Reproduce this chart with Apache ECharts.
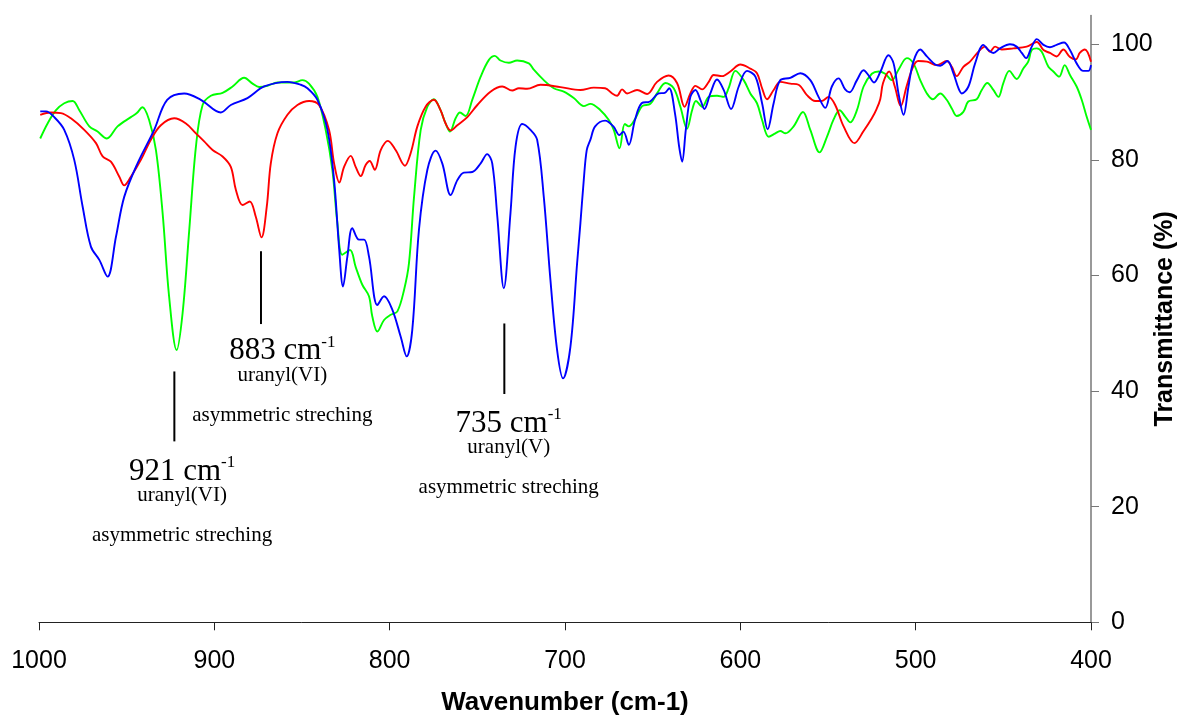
<!DOCTYPE html>
<html>
<head>
<meta charset="utf-8">
<title>FTIR transmittance</title>
<script src="https://cdn.jsdelivr.net/npm/echarts@6/dist/echarts.min.js"></script>
<style>
  html, body { margin: 0; padding: 0; background: #fff; }
  #chart { width: 1185px; height: 716px; }
</style>
</head>
<body>
<div id="chart"></div>
<script>
// wavenumber (cm-1) / transmittance (%)
const blueWn = [999.3, 996, 991.3, 985.6, 979.9, 975.1, 970.4, 965.6, 960.9, 956.1, 951.4, 943.8, 934.3, 926.9, 917.2, 907.7, 896.3, 890.6, 881.1, 871.6, 858.3, 850.7, 846.9, 841.2, 835.5, 831.7, 828.9, 826.6, 824.1, 821.3, 817.5, 814.6, 811.8, 807.0, 803.2, 798.5, 793.7, 790.3, 787.1, 783.3, 778.5, 773.8, 770.0, 765.2, 761.4, 757.7, 752.9, 748.1, 744.4, 741.5, 738.6, 734.9, 731.1, 728.2, 724.4, 719.7, 715.9, 712.1, 708.3, 704.5, 701.1, 696.9, 693.1, 691.2, 689.3, 687.6, 685.5, 682.8, 677.1, 672.4, 669.0, 666.7, 663.6, 660.1, 656.3, 651.5, 646.6, 643.1, 640.6, 637.3, 634.9, 633.2, 631.1, 628.5, 625.6, 622.8, 620.5, 617.1, 613.3, 609.5, 605.3, 600.9, 596.2, 591.4, 587.6, 584.4, 581.0, 577.2, 571.5, 565.8, 560.1, 555.4, 551.6, 547.8, 544.0, 540.2, 537.7, 533.5, 529.7, 526.8, 523.8, 520.2, 515.5, 512.6, 509.8, 506.9, 504.1, 501.3, 497.4, 493.6, 488.9, 486.0, 481.9, 478.5, 475.6, 473.7, 469.9, 466.1, 461.4, 458.5, 455.7, 451.9, 446.2, 442.4, 439.5, 437.0, 433.8, 430.9, 427.1, 423.4, 419.6, 415.4, 412.0, 408.2, 404.4, 401.5, 400];
const blueT = [88.4, 88.4, 87.4, 85.2, 80.0, 71.9, 65.0, 62.7, 59.8, 66.7, 73.6, 79.4, 85.2, 90.4, 91.5, 90.4, 88.2, 89.5, 90.7, 92.7, 93.5, 93.0, 92.4, 90.4, 85.2, 76.5, 65.0, 58.1, 63.3, 68.2, 66.2, 66.2, 63.3, 54.9, 56.4, 54.1, 49.4, 46.0, 50.6, 67.9, 78.3, 81.6, 79.4, 73.9, 76.5, 77.8, 77.9, 79.4, 81.0, 79.4, 70.2, 57.8, 70.8, 82.3, 86.2, 85.2, 83.5, 73.6, 59.2, 47.1, 42.2, 47.7, 62.1, 69.1, 76.5, 81.7, 83.5, 85.8, 86.8, 85.8, 84.3, 84.9, 82.6, 86.9, 89.8, 90.1, 91.5, 91.6, 92.4, 88.1, 82.3, 79.7, 85.2, 90.9, 92.1, 90.4, 88.8, 91.5, 93.9, 92.1, 88.8, 92.7, 95.4, 94.4, 89.8, 85.3, 89.8, 93.8, 94.2, 95.0, 93.8, 90.9, 89.0, 92.7, 94.1, 92.2, 91.7, 93.8, 95.5, 94.6, 93.4, 95.2, 98.1, 96.7, 91.5, 87.8, 92.7, 97.0, 99.1, 97.9, 96.5, 96.3, 97.1, 95.0, 92.4, 91.5, 92.7, 96.7, 99.9, 99.0, 98.5, 99.3, 100.0, 99.6, 98.5, 97.6, 99.6, 100.9, 99.9, 99.5, 99.9, 100.3, 99.0, 96.7, 95.4, 95.4, 96.4];

const redWn = [999.3, 993.2, 987.5, 981.8, 974.2, 967.5, 963.7, 959.0, 954.2, 951.4, 947.6, 941.9, 936.2, 930.5, 922.9, 916.2, 910.5, 905.8, 901.0, 895.3, 890.6, 887.7, 883.9, 879.8, 876.4, 873.1, 870.1, 867.8, 864.0, 858.3, 852.6, 846.0, 840.3, 834.6, 831.7, 828.7, 826.0, 822.2, 819.4, 816.5, 813.7, 811.4, 808.5, 805.1, 801.0, 796.6, 791.3, 788.0, 784.2, 779.5, 774.8, 771.0, 768.1, 765.2, 761.4, 755.7, 750.0, 742.5, 735.8, 730.1, 726.3, 721.6, 714.0, 702.6, 691.2, 683.6, 677.1, 673.1, 670.3, 667.5, 664.6, 658.9, 653.2, 647.5, 640.9, 636.1, 631.8, 628.5, 625.6, 621.8, 618.0, 615.2, 610.4, 605.7, 600.0, 594.3, 590.5, 587.6, 584.8, 581.0, 577.2, 571.5, 566.8, 562.0, 557.3, 553.5, 549.7, 545.9, 541.1, 534.9, 529.7, 525.0, 522.3, 520.2, 518.6, 515.1, 511.9, 508.5, 505.2, 501.5, 498.6, 493.6, 488.0, 482.3, 479.4, 476.6, 472.8, 469.0, 464.3, 460.4, 457.6, 454.7, 450.9, 444.3, 436.7, 430.9, 427.1, 423.4, 419.6, 415.8, 412.0, 408.6, 406.4, 403.5, 400];
const redT = [87.8, 88.2, 88.1, 87.2, 85.2, 82.9, 80.6, 79.7, 77.1, 75.6, 77.1, 80.0, 83.5, 86.0, 87.2, 86.3, 84.6, 83.2, 81.7, 80.6, 78.8, 74.8, 72.2, 72.8, 70.2, 66.6, 71.9, 79.4, 84.6, 87.8, 89.5, 90.2, 89.5, 85.2, 79.4, 76.1, 78.8, 80.7, 78.8, 77.2, 79.1, 79.8, 78.3, 81.7, 83.3, 81.7, 79.0, 81.2, 85.8, 89.2, 90.4, 88.6, 86.3, 85.1, 86.0, 87.4, 89.5, 91.8, 92.7, 92.0, 92.4, 92.3, 93.0, 92.6, 92.1, 92.5, 92.4, 91.5, 91.1, 92.2, 91.5, 92.1, 91.4, 93.5, 94.6, 93.3, 89.2, 91.5, 92.8, 92.2, 93.5, 94.7, 94.5, 95.3, 96.5, 95.8, 95.0, 92.4, 90.5, 92.1, 93.5, 93.2, 93.0, 91.2, 90.2, 90.2, 90.9, 89.5, 85.8, 82.9, 85.0, 87.2, 88.8, 90.5, 93.3, 95.3, 92.7, 89.3, 92.7, 96.1, 97.1, 97.0, 96.4, 97.1, 96.1, 94.5, 96.1, 97.0, 98.7, 99.6, 98.7, 99.6, 99.1, 99.3, 99.6, 100.4, 99.0, 98.5, 97.9, 99.1, 97.8, 97.4, 98.5, 99.1, 97.0];

const greenWn = [999.3, 995.1, 990.3, 985.6, 980.8, 977.0, 971.3, 966.6, 961.3, 955.2, 947.6, 944.2, 941.0, 937.2, 933.3, 929.5, 925.8, 921.5, 918.1, 914.3, 910.5, 906.7, 902.0, 895.3, 889.6, 883.0, 878.2, 874.5, 869.7, 864.0, 854.5, 849.8, 846.0, 841.2, 836.5, 832.7, 829.8, 827.0, 822.6, 819.4, 815.6, 811.8, 809.9, 807.0, 803.2, 799.4, 795.6, 791.8, 789.0, 786.1, 782.3, 778.5, 774.8, 771.0, 768.1, 765.6, 762.4, 759.9, 756.7, 752.9, 748.1, 743.4, 740.0, 736.8, 732.0, 727.3, 720.6, 717.8, 712.1, 706.4, 700.7, 695.0, 689.3, 685.5, 679.8, 675.0, 672.2, 668.9, 665.9, 663.6, 659.8, 656.0, 651.3, 647.5, 642.7, 638.0, 634.2, 630.4, 627.5, 625.3, 621.8, 618.0, 613.3, 609.5, 606.7, 602.8, 598.1, 594.3, 590.5, 587.6, 583.8, 580.0, 577.2, 574.3, 569.6, 564.3, 560.1, 554.8, 550.6, 546.8, 543.4, 540.2, 537.3, 533.5, 529.7, 525.0, 521.2, 517.4, 513.6, 509.8, 505.0, 501.3, 497.4, 493.6, 490.2, 486.0, 482.3, 479.4, 476.6, 472.8, 470.0, 465.2, 462.3, 459.1, 455.7, 452.8, 450.0, 446.6, 442.4, 438.6, 435.8, 433.8, 430.9, 428.1, 424.3, 421.5, 418.2, 415.0, 412.0, 408.2, 405.3, 402.5, 400];
const greenT = [83.7, 86.3, 88.6, 89.8, 90.2, 88.6, 85.8, 84.9, 83.7, 85.8, 87.4, 88.1, 89.1, 86.9, 81.7, 70.8, 56.4, 47.1, 53.5, 67.9, 82.3, 89.5, 91.1, 91.6, 92.7, 94.2, 93.2, 92.6, 92.8, 93.4, 93.4, 93.8, 93.2, 90.9, 85.2, 78.3, 69.0, 63.6, 64.4, 61.5, 58.4, 56.4, 52.9, 50.3, 52.3, 53.2, 53.8, 57.5, 62.1, 73.6, 85.2, 89.2, 90.5, 88.6, 86.3, 84.9, 87.2, 88.2, 87.6, 90.4, 94.4, 97.3, 98.0, 97.2, 96.8, 97.2, 96.7, 95.6, 93.8, 92.4, 91.8, 90.7, 89.3, 89.7, 88.6, 86.9, 85.2, 82.0, 86.2, 85.8, 87.2, 89.3, 89.7, 91.5, 93.3, 92.4, 89.2, 85.4, 88.6, 90.2, 89.2, 90.9, 91.1, 90.9, 92.4, 95.4, 93.8, 91.5, 89.8, 86.9, 84.0, 84.6, 85.0, 84.6, 85.8, 88.3, 85.2, 81.3, 84.0, 87.0, 88.6, 87.5, 86.5, 88.6, 92.7, 94.9, 95.3, 94.9, 93.8, 95.6, 97.6, 96.7, 93.8, 91.5, 90.5, 91.5, 90.4, 88.9, 87.6, 88.3, 90.1, 90.5, 92.1, 93.3, 92.1, 90.9, 93.3, 95.4, 94.0, 95.8, 97.0, 99.0, 99.3, 98.7, 96.1, 95.3, 94.4, 96.4, 94.7, 92.7, 90.4, 87.5, 85.2];

// axis ticks
const xTicks = [400, 500, 600, 700, 800, 900, 1000];
const yTicks = [0, 20, 40, 60, 80, 100];

// peak annotations
const peakLabels = ['921', '883', '735'];
const peakSpecies = ['uranyl(VI)', 'uranyl(VI)', 'uranyl(V)'];
const peakMode = 'asymmetric streching';

// where the annotations sit (data units)
const markWn = [922.8, 873.4, 734.6];
const markTop = [43.4, 64.2, 51.7];
const markBottom = [31.3, 51.6, 39.5];
const textWn = [918.4, 861.2, 732.1];
const textT = [26.1, 46.9, 34.4];

const sans = '"Liberation Sans", Arial, sans-serif';
const serif = '"Liberation Serif", "Times New Roman", serif';

function pairs(xs, ys) {
  return xs.map(function (x, i) { return [x, ys[i]]; });
}

function trace(name, color, xs, ys) {
  return {
    name: name,
    type: 'line',
    data: pairs(xs, ys),
    symbol: 'none',
    smooth: 0.35,
    silent: true,
    lineStyle: { color: color, width: 1.9 },
    itemStyle: { color: color }
  };
}

let chart = echarts.init(document.getElementById('chart'));

const option = {
  animation: false,
  grid: { left: 39, right: 94, top: 15.4, bottom: 93.7, containLabel: false, outerBoundsMode: 'none' },
  xAxis: {
    type: 'value',
    inverse: true,
    min: 400,
    max: 1000,
    interval: 100,
    name: 'Wavenumber (cm-1)',
    nameLocation: 'middle',
    nameGap: 68,
    nameTextStyle: { fontFamily: sans, fontSize: 26, fontWeight: 'bold', color: '#000' },
    axisLine: { lineStyle: { color: '#222', width: 1 } },
    axisTick: { length: 8, lineStyle: { color: '#222' }, customValues: xTicks },
    axisLabel: {
      fontFamily: sans, fontSize: 25, color: '#000', margin: 26, customValues: xTicks,
      formatter: function (v) { return String(v); }
    },
    splitLine: { show: false }
  },
  yAxis: {
    type: 'value',
    position: 'right',
    min: 0,
    max: 105,
    interval: 20,
    name: 'Transmittance (%)',
    nameLocation: 'middle',
    nameRotate: 90,
    nameGap: 62,
    nameMoveOverlap: false,
    nameTextStyle: { fontFamily: sans, fontSize: 25, fontWeight: 'bold', color: '#000' },
    axisLine: { show: true, lineStyle: { color: '#777', width: 1.5 } },
    axisTick: { show: true, length: 8, lineStyle: { color: '#777' }, customValues: yTicks },
    axisLabel: {
      fontFamily: sans, fontSize: 25, color: '#000', margin: 20, customValues: yTicks,
      formatter: function (v) { return String(v); }
    },
    splitLine: { show: false }
  },
  series: [
    trace('green', '#00ff00', greenWn, greenT),
    trace('red', '#ff0000', redWn, redT),
    trace('blue', '#0000ff', blueWn, blueT)
  ]
};

chart.setOption(option);

// annotation lines and texts placed through the axes
let graphics = [];
peakLabels.forEach(function (lab, i) {
  const p1 = chart.convertToPixel({ gridIndex: 0 }, [markWn[i], markTop[i]]);
  const p2 = chart.convertToPixel({ gridIndex: 0 }, [markWn[i], markBottom[i]]);
  graphics.push({
    type: 'line',
    silent: true,
    shape: { x1: p1[0], y1: p1[1], x2: p2[0], y2: p2[1] },
    style: { stroke: '#000', lineWidth: 2 }
  });
  const c = chart.convertToPixel({ gridIndex: 0 }, [textWn[i], textT[i]]);
  graphics.push({
    type: 'text',
    silent: true,
    x: c[0],
    y: c[1],
    style: {
      text: '{big|' + lab + ' cm}{sup|-1}',
      align: 'center',
      verticalAlign: 'middle',
      rich: {
        big: { fontFamily: serif, fontSize: 31, lineHeight: 34, fill: '#000' },
        sup: { fontFamily: serif, fontSize: 17, lineHeight: 18, verticalAlign: 'top', fill: '#000' }
      }
    }
  });
  graphics.push({
    type: 'text',
    silent: true,
    x: c[0],
    y: c[1] + 24.5,
    style: { text: peakSpecies[i], fontFamily: serif, fontSize: 21, fill: '#000', align: 'center', verticalAlign: 'middle' }
  });
  graphics.push({
    type: 'text',
    silent: true,
    x: c[0],
    y: c[1] + 64.5,
    style: { text: peakMode, fontFamily: serif, fontSize: 21, fill: '#000', align: 'center', verticalAlign: 'middle' }
  });
});

chart.setOption({ graphic: graphics });

window.addEventListener('resize', function () {
  chart.resize();
});
</script>
</body>
</html>
